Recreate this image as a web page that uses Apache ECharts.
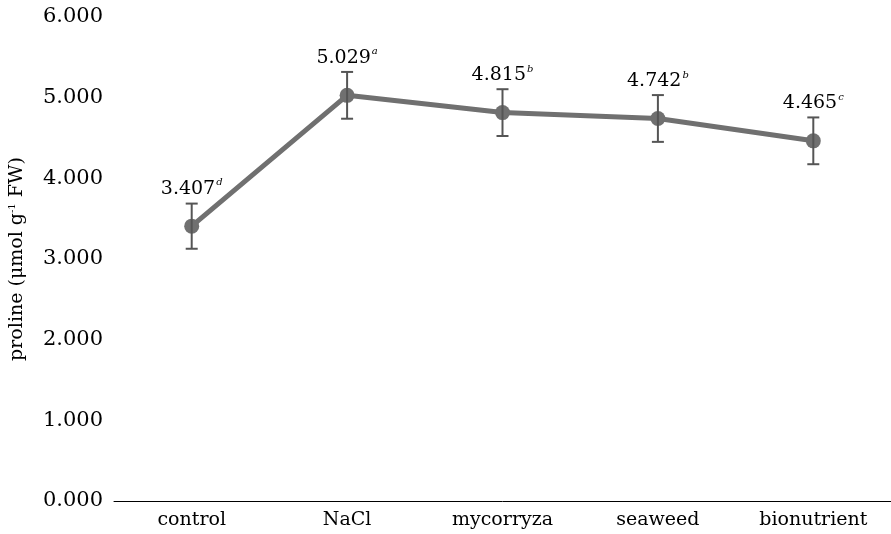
<!DOCTYPE html>
<html>
<head>
<meta charset="utf-8">
<script src="https://cdn.jsdelivr.net/npm/echarts@6/dist/echarts.min.js"></script>
<style>
  html, body { margin: 0; padding: 0; background: #fff; }
  #chart { width: 891px; height: 534px; }
</style>
</head>
<body>
<div id="chart"></div>
<script>
// treatments and measured proline
var categories = ['control', 'NaCl', 'mycorryza', 'seaweed', 'bionutrient'];
var proline = [3.407, 5.029, 4.815, 4.742, 4.465];
var errors = [0.28, 0.29, 0.29, 0.29, 0.29];
var letters = ['d', 'a', 'b', 'b', 'c'];
var yTicks = [0, 1, 2, 3, 4, 5, 6];

var FONT = 'DejaVu Serif';

var errData = [];
for (var i = 0; i < categories.length; i++) {
    errData.push([i, proline[i] - errors[i], proline[i] + errors[i]]);
}

var chart = echarts.init(document.getElementById('chart'));
chart.setOption({
    animation: false,
    grid: { left: 114, right: 0, top: 17, bottom: 33, containLabel: false, outerBoundsMode: 'none' },
    xAxis: {
        type: 'category',
        data: categories,
        axisLine: { lineStyle: { color: '#000', width: 1 } },
        axisTick: { show: false },
        axisLabel: { fontFamily: FONT, fontSize: 19, color: '#000', margin: 10 }
    },
    yAxis: {
        type: 'value',
        min: yTicks[0],
        max: yTicks[yTicks.length - 1],
        interval: 1,
        name: '{n|proline (μmol g}{s|-1}{n| FW)}',
        nameLocation: 'middle',
        nameGap: 87,
        nameTextStyle: {
            rich: {
                n: { fontFamily: FONT, fontSize: 19, color: '#000' },
                s: { fontFamily: FONT, fontSize: 10, color: '#000', verticalAlign: 'top', padding: [0, 0, 10, 0] }
            }
        },
        axisLine: { show: false },
        axisTick: { show: false },
        splitLine: { show: false },
        axisLabel: {
            fontFamily: FONT, fontSize: 21, color: '#000', margin: 11,
            formatter: function (v) { return v.toFixed(3); }
        }
    },
    series: [
        {
            type: 'line',
            data: proline,
            symbol: 'circle',
            symbolSize: 15,
            lineStyle: { color: '#707070', width: 5 },
            itemStyle: { color: '#707070' },
            label: {
                show: true,
                position: 'top',
                distance: 19,
                formatter: function (p) {
                    return '{v|' + p.value.toFixed(3) + '}{s|' + letters[p.dataIndex] + '}';
                },
                rich: {
                    v: { fontFamily: FONT, fontSize: 19, color: '#000' },
                    s: { fontFamily: FONT, fontSize: 10, fontStyle: 'italic', color: '#000', padding: [0, 0, 12, 1] }
                }
            },
            z: 2
        },
        {
            type: 'custom',
            data: errData,
            z: 3,
            renderItem: function (params, api) {
                var x = api.value(0);
                var lo = api.coord([x, api.value(1)]);
                var hi = api.coord([x, api.value(2)]);
                var hw = 6;
                var style = { stroke: '#555', lineWidth: 2 };
                return {
                    type: 'group',
                    children: [
                        { type: 'line', shape: { x1: hi[0], y1: hi[1], x2: lo[0], y2: lo[1] }, style: style },
                        { type: 'line', shape: { x1: hi[0] - hw, y1: hi[1], x2: hi[0] + hw, y2: hi[1] }, style: style },
                        { type: 'line', shape: { x1: lo[0] - hw, y1: lo[1], x2: lo[0] + hw, y2: lo[1] }, style: style }
                    ]
                };
            }
        }
    ]
});
</script>
</body>
</html>
